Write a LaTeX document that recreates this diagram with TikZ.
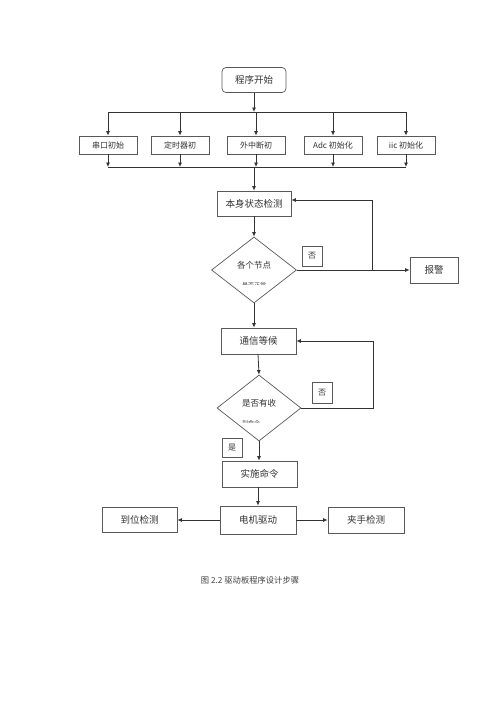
\documentclass[tikz,border=0pt]{standalone}
\usepackage{fontspec}
\setmainfont{Noto Sans CJK SC}
\usetikzlibrary{arrows.meta,shapes.geometric,calc}
\begin{document}
\begin{tikzpicture}[x=1pt,y=-1pt,
  box/.style={draw=black!65,line width=0.7pt,inner sep=0pt,font=\fontsize{9.5}{10}\selectfont,text=black!80},
  initbox/.style={box,minimum width=58pt,minimum height=18pt,font=\fontsize{8}{9}\selectfont},
  lbl/.style={box,minimum width=20pt,minimum height=20pt,font=\fontsize{8}{9}\selectfont},
  dia/.style={diamond,draw=black!65,line width=0.7pt,inner sep=0pt,minimum width=85pt,minimum height=66pt},
  ln/.style={draw=black!80,line width=0.8pt},
  arr/.style={ln,-{Latex[length=4.5pt,width=4pt]}},
  dtext/.style={font=\fontsize{8.5}{9}\selectfont,text=black!80},
  stext/.style={font=\fontsize{6}{7}\selectfont,text=black!70}]
\useasboundingbox (0,0) rectangle (500,707);
\fill[white] (0,0) rectangle (500,707);

% start
\node[box,rounded corners=4pt,minimum width=64pt,minimum height=25pt] (start) at (254,80) {程序开始};
\coordinate (tj) at (254,112);
\coordinate (tl) at (108,112);
\coordinate (tr) at (406,112);
\draw[arr] (start.south) -- (tj);
\draw[ln] (tl) -- (tr);

% init boxes
\node[initbox] (i1) at (108,145) {串口初始};
\node[initbox] (i2) at (180,145) {定时器初};
\node[initbox] (i3) at (256,145) {外中断初};
\node[initbox] (i4) at (333,145) {Adc 初始化};
\node[initbox] (i5) at (406,145) {iic 初始化};
\foreach \i in {1,...,5} {
  \draw[arr] (tl -| i\i.north) -- (i\i.north);
}
\coordinate (bl) at (108,167);
\coordinate (br) at (406,167);
\coordinate (bj) at (254,167);
\draw[ln] (bl) -- (br);
\foreach \i in {1,...,5} {
  \draw[arr] (i\i.south) -- (bl -| i\i.south);
}

% self check
\node[box,minimum width=74pt,minimum height=25pt] (self) at (254,203.5) {本身状态检测};
\draw[arr] (bj) -- (self.north);

% diamond 1
\node[dia] (d1) at (254,270) {};
\node[dtext] (d1a) at (254,265) {各个节点};
\begin{scope}
  \clip (220,279) rectangle (290,284.5);
  \node[stext] (d1b) at (254,285) {是否正常};
\end{scope}
\draw[arr] (self.south) -- (d1.north);

\node[lbl] (no1) at (312,256) {否};
\node[box,minimum width=48pt,minimum height=26pt] (alarm) at (434,270) {报警};
\coordinate (br1) at (372,270);
\coordinate (br1t) at (372,200);
\draw[arr] (d1.east) -- (alarm.west);
\draw[arr] (br1) -- (br1t) -- (self.east |- br1t);

% wait
\node[box,minimum width=75pt,minimum height=26pt] (wait) at (258.5,341) {通信等候};
\draw[arr] (d1.south) -- (d1.south |- wait.north);

% diamond 2
\node[dia,minimum width=84pt] (d2) at (259,408) {};
\node[dtext] (d2a) at (259,403) {是否有收};
\begin{scope}
  \clip (225,417) rectangle (295,422.5);
  \node[stext] (d2b) at (251,423) {到命令};
\end{scope}
\coordinate (wb) at (258,354);
\draw[arr] (wb) -- (d2.north);
\node[lbl,minimum height=21pt] (no2) at (322,392.5) {否};
\coordinate (l2a) at (373,408);
\coordinate (l2b) at (373,341);
\draw[arr] (d2.east) -- (l2a) -- (l2b) -- (wait.east);

\node[lbl,minimum height=19pt] (yes) at (232,447.5) {是};

% execute
\node[box,minimum width=75pt,minimum height=26pt] (exec) at (259.5,474) {实施命令};
\draw[arr] (d2.south) -- (d2.south |- exec.north);

% motor
\node[box,minimum width=76pt,minimum height=28pt] (motor) at (258,520) {电机驱动};
\draw[arr] (exec.south -| motor.north) -- (motor.north);
\node[box,minimum width=75pt,minimum height=25pt] (pos) at (139.5,520) {到位检测};
\node[box,minimum width=76pt,minimum height=26pt] (grip) at (366,520) {夹手检测};
\draw[arr] (motor.west) -- (pos.east);
\draw[arr] (motor.east) -- (grip.west);

% caption
\node[font=\fontsize{8.3}{9}\selectfont,text=black!75] (cap) at (250,580) {图 2.2 驱动板程序设计步骤};
\end{tikzpicture}
\end{document}
